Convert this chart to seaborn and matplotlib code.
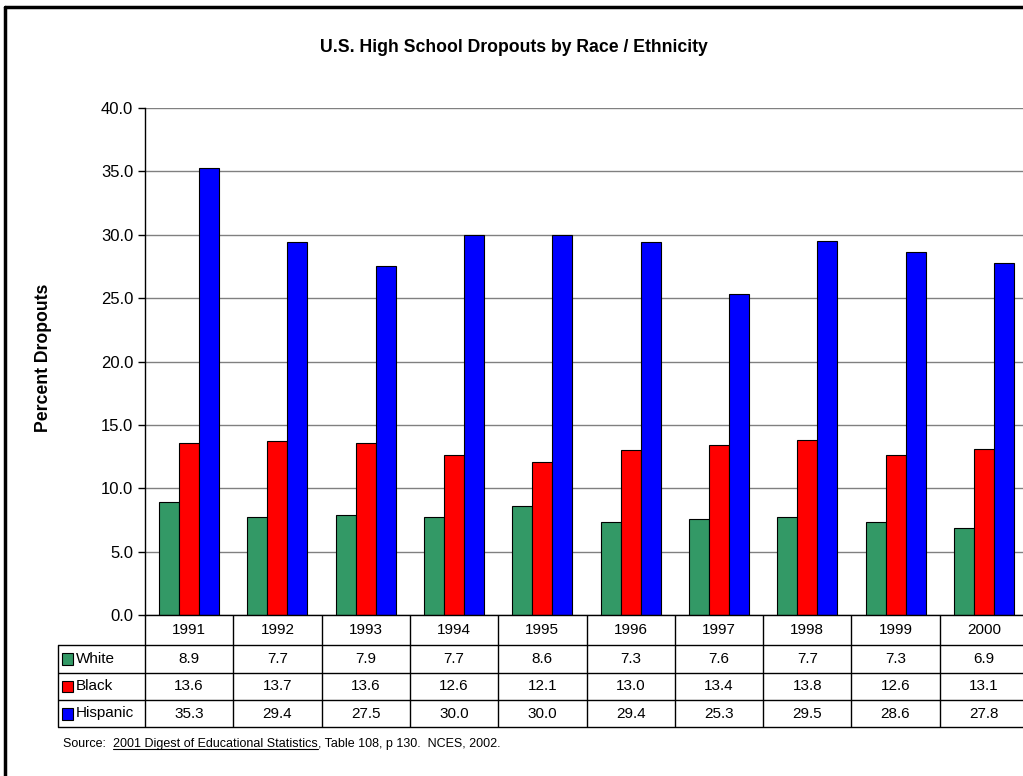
import numpy as np
import pandas as pd
import matplotlib
matplotlib.use("Agg")
import matplotlib.pyplot as plt
import seaborn as sns
from matplotlib.lines import Line2D
from matplotlib.patches import Rectangle

# Data
years = ["1991", "1992", "1993", "1994", "1995", "1996", "1997", "1998", "1999", "2000"]
white = [8.9, 7.7, 7.9, 7.7, 8.6, 7.3, 7.6, 7.7, 7.3, 6.9]
black = [13.6, 13.7, 13.6, 12.6, 12.1, 13.0, 13.4, 13.8, 12.6, 13.1]
hispanic = [35.3, 29.4, 27.5, 30.0, 30.0, 29.4, 25.3, 29.5, 28.6, 27.8]
groups = ["White", "Black", "Hispanic"]
colors = ["#339966", "#FF0000", "#0000FF"]
yticks = [0, 5, 10, 15, 20, 25, 30, 35, 40]

series = {"White": white, "Black": black, "Hispanic": hispanic}
df = pd.DataFrame(
    [(y, g, v) for g in groups for y, v in zip(years, series[g])],
    columns=["year", "group", "pct"],
)

sns.set_theme(style="white")
plt.rcParams["font.family"] = ["Liberation Sans", "DejaVu Sans"]
plt.rcParams.update({"text.color": "black", "axes.labelcolor": "black",
                     "xtick.color": "black", "ytick.color": "black"})

W, H = 1023, 776
fig = plt.figure(figsize=(W / 100, H / 100), dpi=100)

# plot area in pixels
ax_l, ax_r, ax_t, ax_b = 145, 1028, 108, 615
ax = fig.add_axes([ax_l / W, 1 - ax_b / H, (ax_r - ax_l) / W, (ax_b - ax_t) / H])

sns.barplot(
    data=df, x="year", y="pct", hue="group", hue_order=groups, order=years,
    palette=colors, saturation=1, width=0.68, edgecolor="black", linewidth=0.8,
    errorbar=None, legend=False, ax=ax,
)
ax.set_xlim(-0.5, len(years) - 0.5)
ax.set_ylim(0, 40)
ax.set_yticks(yticks)
ax.set_yticklabels([f"{v:.1f}" for v in yticks], fontsize=12, color="black")
ax.set_xticks([])
ax.set_xlabel("")
ax.set_ylabel("")
ax.yaxis.grid(True, color="#808080", lw=1)
ax.set_axisbelow(True)
for s in ["top", "right"]:
    ax.spines[s].set_visible(False)
for s in ["left", "bottom"]:
    ax.spines[s].set_color("black")
    ax.spines[s].set_linewidth(1)
ax.tick_params(axis="y", left=True, direction="out", length=5, width=1,
               color="black", labelcolor="black", pad=3.5)

fig.text(513.5 / W, 1 - 47 / H, "U.S. High School Dropouts by Race / Ethnicity",
         ha="center", va="center", fontsize=12.7, fontweight="bold", color="black")
fig.text(44 / W, 1 - 358 / H, "Percent Dropouts", rotation=90,
         ha="center", va="center", fontsize=12.7, fontweight="bold", color="black")

# data table under the plot
px_per_cat = (ax_r - ax_l) / len(years)
tab_l, tab_t, tab_b = 58, 615, 727
tab = fig.add_axes([tab_l / W, 1 - tab_b / H, (ax_r - tab_l) / W, (tab_b - tab_t) / H])
xl = -0.5 - (ax_l - tab_l) / px_per_cat
tab.set_xlim(xl, len(years) - 0.5)
tab.set_ylim(0, tab_b - tab_t)
tab.axis("off")

def ty(ypix):
    return tab_b - ypix

row_lines = [645, 672.5, 700, 727]
for yp in row_lines:
    tab.plot([xl, len(years) - 0.5], [ty(yp), ty(yp)], color="black", lw=1,
             clip_on=False, solid_capstyle="butt")
for i in range(len(years) + 1):
    tab.plot([i - 0.5, i - 0.5], [ty(615), ty(727)], color="black", lw=1,
             clip_on=False, solid_capstyle="butt")
tab.plot([xl, xl], [ty(645), ty(727)], color="black", lw=1, clip_on=False)

fs_tab = 11
for i, yr in enumerate(years):
    tab.text(i, ty(630), yr, ha="center", va="center", fontsize=fs_tab, color="black")

row_centers = [658.75, 686.25, 713.5]
for g, col, yc in zip(groups, colors, row_centers):
    tab.add_patch(Rectangle((xl + 3.5 / px_per_cat, ty(yc) - 6), 11.5 / px_per_cat, 11.5,
                            facecolor=col, edgecolor="black", lw=0.8, clip_on=False))
    tab.text(xl + 17.5 / px_per_cat, ty(yc), g, ha="left", va="center",
             fontsize=fs_tab, color="black")
    for i, v in enumerate(series[g]):
        tab.text(i, ty(yc), f"{v:.1f}", ha="center", va="center",
                 fontsize=fs_tab, color="black")

# source line with underlined publication title
renderer = fig.canvas.get_renderer()
sy = 1 - 744 / H
parts = [("Source:  ", False), ("2001 Digest of Educational Statistics", True),
         (", Table 108, p 130.  NCES, 2002.", False)]
x = 63 / W
for txt, ul in parts:
    t = fig.text(x, sy, txt, ha="left", va="center", fontsize=9, color="black")
    bb = t.get_window_extent(renderer)
    if ul:
        fig.add_artist(Line2D([bb.x0 / W, bb.x1 / W], [(bb.y0 + 1) / H] * 2,
                              color="black", lw=0.8))
    x = bb.x1 / W

# outer frame
fig.add_artist(Line2D([5 / W, 5 / W], [0, 1 - 7 / H], color="black", lw=2.5))
fig.add_artist(Line2D([5 / W, 1], [1 - 7 / H, 1 - 7 / H], color="black", lw=2.5))

fig.savefig("out.png", dpi=100)
